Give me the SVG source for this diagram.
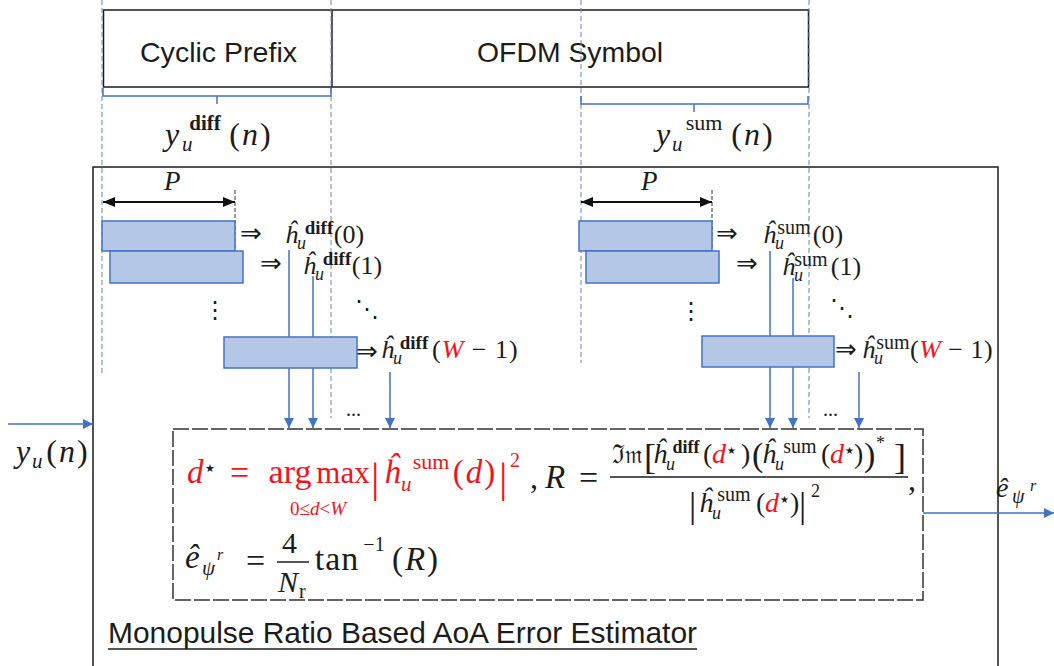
<svg xmlns="http://www.w3.org/2000/svg" width="1054" height="666" viewBox="0 0 1054 666">
<style>
.m{font-family:"Liberation Serif","DejaVu Serif",serif;fill:#1c1c1c}
.c{text-anchor:middle}
.i{font-style:italic}
.b{font-weight:bold}
.r{fill:#f0141e}
.s{font-family:"Liberation Sans",Arial,sans-serif;fill:#1c1c1c}
.d{font-family:"DejaVu Sans",sans-serif;fill:#1c1c1c}
.blk{fill:#b4c7e7;stroke:#4472c4;stroke-width:1.5}
.conn{stroke:#4472c4;stroke-width:1.5;fill:none}
.guide{stroke:#6f86b5;stroke-width:1;stroke-dasharray:5 3;fill:none}
.tick{stroke:#333;stroke-width:1;stroke-dasharray:4 2;fill:none}
.brace{stroke:#4472c4;stroke-width:1.5;fill:none}
.box{fill:none;stroke:#1c1c1c;stroke-width:1.5}
.fbox{fill:none;stroke:#333;stroke-width:1.5;stroke-dasharray:16 3}
.bar{stroke:#1c1c1c;stroke-width:1.5}
</style>
<defs>
<marker id="ah" viewBox="0 0 10 10" refX="10" refY="5" markerWidth="10" markerHeight="10" markerUnits="userSpaceOnUse" orient="auto"><path d="M0,0 L10,5 L0,10 z" fill="#4472c4"/></marker>
<marker id="pa" viewBox="0 0 12 10" refX="12" refY="5" markerWidth="12" markerHeight="10" markerUnits="userSpaceOnUse" orient="auto-start-reverse"><path d="M0,0 L12,5 L0,10 z" fill="#111"/></marker>
</defs>
<rect width="1054" height="666" fill="#fff"/>

<g id="header">
<rect class="box" x="103.5" y="10" width="705" height="77"/>
<line class="box" x1="332" y1="10" x2="332" y2="87"/>
<text class="s" x="140" y="62" font-size="28" textLength="157" lengthAdjust="spacingAndGlyphs">Cyclic Prefix</text>
<text class="s" x="477" y="62" font-size="28" textLength="186" lengthAdjust="spacingAndGlyphs">OFDM Symbol</text>
</g>

<g id="guides">
<line class="guide" x1="102" y1="0" x2="102" y2="373"/>
<line class="guide" x1="331" y1="0" x2="331" y2="418"/>
<line class="guide" x1="581" y1="0" x2="581" y2="363"/>
<line class="guide" x1="809" y1="0" x2="809" y2="418"/>
<line class="tick" x1="235" y1="190" x2="235" y2="250"/>
<line class="tick" x1="712" y1="190" x2="712" y2="250"/>
</g>

<g id="diff-span">
<path class="brace" d="M103,88 V96 H331 V88 M217,96 V104"/>
<text class="m i" x="165" y="145" font-size="32">y</text>
<text class="m i" x="182" y="151" font-size="21">u</text>
<text class="m b c" x="205" y="130" font-size="21">diff</text>
<text class="m c" x="251" y="145" font-size="32" letter-spacing="2">(<tspan class="i">n</tspan>)</text>
</g>

<g id="sum-span">
<path class="brace" d="M581,96 V104 H808 V96 M694,104 V112"/>
<text class="m i" x="656" y="145" font-size="32">y</text>
<text class="m i" x="672" y="151" font-size="21">u</text>
<text class="m c" x="704" y="130" font-size="22">sum</text>
<text class="m c" x="753" y="145" font-size="32" letter-spacing="2">(<tspan class="i">n</tspan>)</text>
</g>

<g id="estimator">
<path class="box" d="M93,670 V167 H998 V670"/>
<text class="s" x="108" y="643" font-size="30" textLength="589" lengthAdjust="spacingAndGlyphs">Monopulse Ratio Based AoA Error Estimator</text>
<line x1="108" y1="649" x2="697" y2="649" stroke="#1c1c1c" stroke-width="1.5"/>
</g>

<g id="connectors">
<line class="conn" x1="289" y1="250" x2="289" y2="428" marker-end="url(#ah)"/>
<line class="conn" x1="313" y1="276" x2="313" y2="428" marker-end="url(#ah)"/>
<line class="conn" x1="390" y1="372" x2="390" y2="428" marker-end="url(#ah)"/>
<line class="conn" x1="770" y1="251" x2="770" y2="428" marker-end="url(#ah)"/>
<line class="conn" x1="793" y1="278" x2="793" y2="428" marker-end="url(#ah)"/>
<line class="conn" x1="859" y1="372" x2="859" y2="428" marker-end="url(#ah)"/>
<line class="conn" x1="8" y1="424" x2="93" y2="424" marker-end="url(#ah)"/>
<line class="conn" x1="923" y1="513" x2="1054" y2="513" marker-end="url(#ah)"/>
<line x1="103" y1="202" x2="235" y2="202" stroke="#111" stroke-width="1.8" marker-start="url(#pa)" marker-end="url(#pa)"/>
<line x1="581" y1="202" x2="712" y2="202" stroke="#111" stroke-width="1.8" marker-start="url(#pa)" marker-end="url(#pa)"/>
</g>

<g id="diff-windows">
<text class="m i" x="164" y="190" font-size="27">P</text>
<rect id="diff-w0" class="blk" x="102" y="221" width="133" height="30"/>
<rect id="diff-w1" class="blk" x="110" y="251" width="133" height="32"/>
<rect id="diff-wW" class="blk" x="224" y="337" width="133" height="31"/>
<text class="d" x="240" y="242" font-size="26">⇒</text>
<text class="m i" x="285" y="243" font-size="26">ĥ</text>
<text class="m i" x="297" y="249" font-size="18">u</text>
<text class="m b c" x="319" y="234" font-size="19">diff</text>
<text class="m c" x="349" y="243" font-size="26">(0)</text>
<text class="d" x="260" y="272" font-size="26">⇒</text>
<text class="m i" x="303" y="274" font-size="26">ĥ</text>
<text class="m i" x="315" y="280" font-size="18">u</text>
<text class="m b c" x="337" y="265" font-size="19">diff</text>
<text class="m c" x="367" y="274" font-size="26">(1)</text>
<text class="d" x="203" y="318" font-size="24">⋮</text>
<text class="d" x="355" y="317" font-size="24">⋱</text>
<text class="d" x="356" y="360" font-size="26">⇒</text>
<text class="m i" x="381" y="358" font-size="26">ĥ</text>
<text class="m i" x="393" y="364" font-size="18">u</text>
<text class="m b c" x="414" y="349" font-size="19">diff</text>
<text class="m" x="432" y="358" font-size="26" letter-spacing="1">(<tspan class="i r">W</tspan> − 1)</text>
<text class="m" x="346" y="416" font-size="20">...</text>
</g>

<g id="sum-windows">
<text class="m i" x="641" y="190" font-size="27">P</text>
<rect id="sum-w0" class="blk" x="579" y="221" width="133" height="30"/>
<rect id="sum-w1" class="blk" x="586" y="251" width="133" height="32"/>
<rect id="sum-wW" class="blk" x="702" y="336" width="132" height="31"/>
<text class="d" x="716" y="242" font-size="26">⇒</text>
<text class="m i" x="763" y="243" font-size="26">ĥ</text>
<text class="m i" x="775" y="249" font-size="18">u</text>
<text class="m c" x="794" y="234" font-size="20">sum</text>
<text class="m c" x="828" y="243" font-size="26">(0)</text>
<text class="d" x="736" y="272" font-size="26">⇒</text>
<text class="m i" x="782" y="275" font-size="26">ĥ</text>
<text class="m i" x="794" y="281" font-size="18">u</text>
<text class="m c" x="811" y="266" font-size="20">sum</text>
<text class="m c" x="846" y="275" font-size="26">(1)</text>
<text class="d" x="679" y="319" font-size="24">⋮</text>
<text class="d" x="830" y="316" font-size="24">⋱</text>
<text class="d" x="835" y="358" font-size="26">⇒</text>
<text class="m i" x="862" y="358" font-size="26">ĥ</text>
<text class="m i" x="874" y="364" font-size="18">u</text>
<text class="m c" x="893" y="349" font-size="20">sum</text>
<text class="m" x="910" y="358" font-size="26" letter-spacing="0.5">(<tspan class="i r">W</tspan> − 1)</text>
<text class="m" x="823" y="416" font-size="20">...</text>
</g>

<g id="input-label">
<text class="m i" x="16" y="462" font-size="32">y</text>
<text class="m i" x="32" y="468" font-size="21">u</text>
<text class="m c" x="68" y="462" font-size="32" letter-spacing="2">(<tspan class="i">n</tspan>)</text>
</g>

<g id="output-label">
<text class="m i" x="996" y="497" font-size="28">ê</text>
<text class="m i" x="1012" y="503" font-size="20">ψ</text>
<text class="m i" x="1030" y="491" font-size="16">r</text>
</g>

<g id="formula">
<rect class="fbox" x="173" y="429" width="750" height="171"/>
<text class="m i r" x="187" y="483" font-size="33">d</text>
<text class="d r" x="205" y="472" font-size="11">★</text>
<text class="m r" x="230" y="484" font-size="34">=</text>
<text class="m r c" x="290" y="483" font-size="34">arg</text>
<text class="m r c" x="343" y="483" font-size="31">max</text>
<text class="m r" x="371" y="492" font-size="42">|</text>
<text class="m i r" x="384" y="483" font-size="33">ĥ</text>
<text class="m i r" x="401" y="491" font-size="21">u</text>
<text class="m r c" x="431" y="469" font-size="22">sum</text>
<text class="m r c" x="475" y="483" font-size="33" letter-spacing="2">(<tspan class="i">d</tspan>)</text>
<text class="m r" x="499" y="492" font-size="42">|</text>
<text class="m r" x="510" y="467" font-size="20">2</text>
<text class="m r c" x="318" y="515" font-size="19">0≤<tspan class="i">d</tspan>&lt;<tspan class="i">W</tspan></text>

<text class="m" x="530" y="488" font-size="32">,</text>
<text class="m i" x="545" y="488" font-size="33">R</text>
<text class="m" x="579" y="489" font-size="34">=</text>
<line class="bar" x1="610" y1="477" x2="908" y2="477"/>
<text class="m" x="612" y="463" font-size="26" textLength="31" lengthAdjust="spacingAndGlyphs">ℑ𝔪</text>
<text class="m" x="644" y="469" font-size="36">[</text>
<text class="m i" x="653" y="463" font-size="28">ĥ</text>
<text class="m i" x="666" y="470" font-size="18">u</text>
<text class="m b c" x="686" y="453" font-size="18">diff</text>
<text class="m" x="703" y="463" font-size="28">(</text>
<text class="m i r" x="712" y="463" font-size="28">d</text>
<text class="d r" x="727" y="454" font-size="10">★</text>
<text class="m" x="741" y="463" font-size="28">)</text>
<text class="m" x="752" y="466" font-size="34">(</text>
<text class="m i" x="762" y="463" font-size="28">ĥ</text>
<text class="m i" x="775" y="470" font-size="18">u</text>
<text class="m c" x="800" y="453" font-size="20">sum</text>
<text class="m" x="821" y="463" font-size="28">(</text>
<text class="m i r" x="830" y="463" font-size="28">d</text>
<text class="d r" x="845" y="454" font-size="10">★</text>
<text class="m" x="854" y="463" font-size="28">)</text>
<text class="m" x="864" y="466" font-size="34">)</text>
<text class="m" x="876" y="449" font-size="18">*</text>
<text class="m" x="894" y="469" font-size="36">]</text>

<text class="m" x="689" y="517" font-size="36">|</text>
<text class="m i" x="699" y="512" font-size="28">ĥ</text>
<text class="m i" x="712" y="519" font-size="18">u</text>
<text class="m c" x="734" y="501" font-size="20">sum</text>
<text class="m" x="756" y="512" font-size="28">(</text>
<text class="m i r" x="765" y="512" font-size="28">d</text>
<text class="d r" x="780" y="503" font-size="10">★</text>
<text class="m" x="790" y="512" font-size="28">)</text>
<text class="m" x="799" y="517" font-size="36">|</text>
<text class="m" x="811" y="497" font-size="18">2</text>
<text class="m" x="908" y="490" font-size="32">,</text>

<text class="m i" x="185" y="568" font-size="33">ê</text>
<text class="m i" x="202" y="575" font-size="21">ψ</text>
<text class="m i" x="217" y="560" font-size="16">r</text>
<text class="m" x="246" y="572" font-size="34">=</text>
<text class="m" x="282" y="553" font-size="30">4</text>
<line class="bar" x1="277" y1="562" x2="309" y2="562"/>
<text class="m i" x="278" y="592" font-size="30">N</text>
<text class="m" x="299" y="598" font-size="20">r</text>
<text class="m c" x="337" y="570" font-size="34" letter-spacing="1">tan</text>
<text class="m c" x="374" y="551" font-size="20">−1</text>
<text class="m c" x="416" y="570" font-size="33" letter-spacing="2">(<tspan class="i">R</tspan>)</text>
</g>
</svg>
